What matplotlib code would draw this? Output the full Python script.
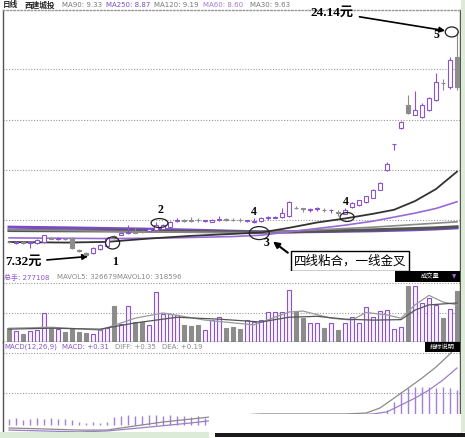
import matplotlib.pyplot as plt
import numpy as np
from matplotlib.patches import Ellipse, Rectangle

plt.rcParams['font.family'] = ['DejaVu Sans', 'Noto Sans CJK SC']

# daily candles (price, yuan)
opens = [8.45, 8.40, 8.45, 8.37, 8.37, 8.44, 8.75, 8.70, 8.70, 8.74,
         7.84, 7.60, 7.62, 7.90, 8.14, 8.90, 9.00, 9.15, 9.20, 9.28,
         9.30, 9.35, 9.45, 9.60, 10.00, 10.05, 10.10, 10.10, 10.00, 9.95,
         10.10, 10.15, 10.10, 10.10, 10.00, 9.95, 10.00, 10.20, 10.25, 10.31,
         10.35, 11.00, 10.95, 10.85, 10.90, 10.85, 10.80, 10.70, 10.55, 11.06,
         11.20, 11.40, 11.75, 12.35, 13.80, 15.75, 16.95, 18.70, 17.95, 17.80,
         18.30, 19.05, 20.35, 20.03, 22.30]
closes = [8.42, 8.45, 8.38, 8.40, 8.60, 8.95, 8.70, 8.72, 8.65, 7.99,
          7.75, 7.50, 7.99, 8.22, 8.74, 8.75, 9.10, 9.20, 9.15, 9.20,
          9.45, 9.70, 9.70, 9.90, 10.10, 10.00, 10.00, 10.05, 10.02, 10.05,
          10.15, 10.10, 10.05, 10.05, 10.05, 10.00, 10.20, 10.30, 10.30, 10.61,
          11.43, 10.95, 10.90, 10.90, 10.95, 10.80, 10.85, 10.60, 10.80, 11.36,
          11.55, 11.85, 12.30, 12.85, 14.30, 15.78, 17.40, 18.08, 18.30, 18.70,
          19.20, 20.40, 20.30, 22.04, 20.00]
highs = [8.55, 8.50, 8.50, 8.50, 8.65, 9.00, 8.80, 8.78, 8.75, 8.80,
         7.90, 7.70, 8.05, 8.30, 8.80, 9.00, 9.20, 9.70, 9.50, 9.35,
         9.50, 9.95, 9.80, 10.00, 10.20, 10.15, 10.30, 10.20, 10.10, 10.15,
         10.40, 10.20, 10.20, 10.20, 10.10, 10.25, 10.30, 10.40, 10.35, 11.00,
         11.50, 11.10, 11.00, 11.00, 11.05, 10.95, 10.90, 10.80, 10.95, 11.45,
         11.60, 11.90, 12.40, 12.95, 14.40, 15.80, 17.45, 19.40, 19.70, 18.80,
         19.30, 21.07, 20.60, 22.30, 24.14]
lows = [8.35, 8.30, 8.30, 7.99, 8.30, 8.40, 8.65, 8.62, 8.60, 7.95,
        7.70, 7.32, 7.55, 7.85, 8.10, 8.70, 8.95, 9.05, 9.10, 9.12,
        9.25, 9.30, 9.40, 9.55, 9.95, 9.95, 9.95, 9.95, 9.90, 9.90,
        10.00, 10.00, 10.00, 9.95, 9.90, 9.85, 9.95, 10.10, 10.20, 10.25,
        10.30, 10.90, 10.70, 10.70, 10.75, 10.70, 10.60, 10.40, 10.50, 11.00,
        11.15, 11.35, 11.70, 12.30, 13.75, 15.30, 16.90, 18.00, 17.90, 17.70,
        18.20, 19.00, 19.80, 19.90, 19.80]

# moving averages, read at a few days
ma_days = [0, 8, 14, 20, 26, 32, 36, 40, 44, 48, 52, 55, 58, 61, 64]
ma30 = [8.44, 8.40, 8.45, 8.70, 8.90, 9.05, 9.15, 9.50, 9.90, 10.20, 10.55, 10.85, 11.50, 12.40, 13.70]
ma60 = [8.75, 8.72, 8.70, 8.72, 8.78, 8.85, 8.95, 9.20, 9.45, 9.70, 10.00, 10.30, 10.60, 10.95, 11.45]
ma90 = [9.35, 9.30, 9.25, 9.20, 9.18, 9.15, 9.15, 9.25, 9.35, 9.45, 9.55, 9.65, 9.75, 9.85, 9.95]
ma120 = [9.30, 9.28, 9.27, 9.25, 9.22, 9.20, 9.18, 9.20, 9.25, 9.30, 9.35, 9.40, 9.45, 9.50, 9.58]
ma250 = [9.55, 9.50, 9.45, 9.40, 9.33, 9.25, 9.20, 9.20, 9.22, 9.25, 9.28, 9.32, 9.36, 9.42, 9.50]
price_grid = [10.09, 13.82, 17.56, 21.37]

# volume (thousand lots)
volume = [290, 230, 170, 230, 250, 610, 290, 270, 210, 290,
          210, 190, 170, 250, 290, 760, 380, 760, 420, 420,
          360, 1050, 590, 590, 570, 360, 340, 360, 250, 460,
          530, 290, 320, 270, 460, 420, 460, 630, 630, 630,
          1090, 630, 500, 400, 400, 290, 400, 250, 400, 530,
          400, 740, 530, 650, 670, 270, 320, 1180, 1180, 820,
          920, 780, 500, 690, 1070]
mavol5_days = [0, 6, 13, 18, 22, 28, 35, 40, 42, 46, 49, 51, 54, 56, 58, 60, 62, 64]
mavol5 = [290, 310, 250, 500, 610, 460, 360, 630, 650, 500, 460, 620, 570, 500, 780, 980, 840, 780]
mavol10_days = [0, 6, 13, 18, 24, 30, 36, 40, 44, 48, 52, 56, 58, 60, 64]
mavol10 = [270, 290, 270, 400, 520, 480, 420, 520, 540, 480, 460, 470, 670, 780, 820]

# MACD
diff_days = [0, 5, 10, 14, 18, 22, 26, 30, 36, 42, 48, 51, 53, 55, 57, 59, 61, 63, 64]
diff = [-0.013, -0.017, -0.022, -0.022, -0.004, 0.013, 0.026, 0.039, 0.048, 0.048, 0.048,
        0.052, 0.074, 0.117, 0.160, 0.204, 0.252, 0.309, 0.348]
dea_days = [0, 10, 14, 20, 26, 32, 40, 48, 52, 54, 56, 58, 60, 62, 64]
dea = [-0.022, -0.030, -0.026, -0.009, 0.009, 0.030, 0.039, 0.043, 0.048, 0.057, 0.087,
       0.117, 0.152, 0.196, 0.248]
macd_hist = [0.025, 0.030, 0.022, 0.028, 0.030, 0.026, 0.030, 0.024, 0.028, 0.022,
             0.012, 0.010, 0.012, 0.010, 0.014, 0.035, 0.040, 0.042, 0.038, 0.040,
             0.045, 0.042, 0.040, 0.044, 0.040, 0.038, 0.036, 0.040, 0.030, 0.028,
             0.025, 0.022, 0.020, 0.020, 0.022, 0.020, 0.024, 0.022, 0.020, 0.022,
             0.025, 0.020, 0.018, 0.015, 0.012, 0.012, 0.010, 0.012, 0.015, 0.020,
             0.025, 0.030, 0.040, 0.050, 0.065, 0.100, 0.143, 0.161, 0.165, 0.165,
             0.165, 0.161, 0.165, 0.161, 0.152]

W, H = 465, 438
PURPLE = '#8a55cc'
GREY = '#8c8c8c'


def px_rect(x0, y0, x1, y1):
    return [x0 / W, 1 - y1 / H, (x1 - x0) / W, (y1 - y0) / H]


def ftext(x, y, s, **kw):
    fig.text(x / W, 1 - y / H, s, va='center', **kw)


fig = plt.figure(figsize=(4.65, 4.38), dpi=100)
ax = fig.add_axes(px_rect(3, 10, 460, 270))
axv = fig.add_axes(px_rect(3, 271, 460, 342))
axm = fig.add_axes(px_rect(3, 342, 460, 432))

n = len(closes)
days = np.arange(n)
up = [c >= o for o, c in zip(opens, closes)]

for a in (ax, axv, axm):
    a.set_xlim(-0.86, 64.43)
    a.set_xticks([])
    a.set_yticks([])
    for s in a.spines.values():
        s.set_color('#555555')
        s.set_linewidth(1)
dot = dict(color='#999999', lw=0.8, ls=(0, (1, 1.5)))

# ---- price panel
ax.set_ylim(6.35, 25.78)
ax.spines['top'].set_linestyle((0, (1, 1.5)))
ax.spines['top'].set_color('#999999')
ax.spines['bottom'].set_visible(False)
for g in price_grid:
    ax.axhline(g, **dot)

ax.plot(ma_days, ma250, color='#7a4cc4', lw=2.2, zorder=2)
ax.plot(ma_days, ma120, color='#555555', lw=2.2, zorder=2)
ax.plot(ma_days, ma90, color='#8a8a8a', lw=1.2, zorder=2)
ax.plot(ma_days, ma60, color='#9a6ad8', lw=1.2, zorder=2)
ax.plot(ma_days, ma30, color='#333333', lw=1.3, zorder=2)

for i in range(n):
    col = PURPLE if up[i] else GREY
    ax.vlines(i, lows[i], highs[i], color=col, lw=0.8, zorder=3)
    lo, hi = min(opens[i], closes[i]), max(opens[i], closes[i])
    h = max(hi - lo, 0.05)
    ax.bar(i, h, bottom=lo, width=0.62, facecolor='white' if up[i] else GREY,
           edgecolor=col, lw=0.8, zorder=4)

serif = ['Liberation Serif', 'Noto Sans CJK SC']
ax.annotate('7.32元', xy=(11.7, 7.38), xytext=(-0.6, 6.95), ha='left', va='center',
            fontsize=9.5, family=serif, fontweight='bold',
            arrowprops=dict(arrowstyle='-|>', color='black', lw=1.2, mutation_scale=8))
ax.annotate('24.14元', xy=(62.7, 24.2), xytext=(46.2, 25.6), ha='center', va='center',
            fontsize=9.5, family=serif, fontweight='bold',
            arrowprops=dict(arrowstyle='-|>', color='black', lw=1.2, mutation_scale=8))
ax.annotate('四线粘合，一线金叉', xy=(37.4, 8.6), xytext=(48.7, 7.02), ha='center', va='center',
            fontsize=9, family=['Noto Sans CJK SC'],
            bbox=dict(boxstyle='square,pad=0.25', fc='white', ec='black', lw=1),
            arrowprops=dict(arrowstyle='-|>', color='black', lw=1.5, mutation_scale=9,
                            relpos=(0.0, 0.8)))
for lab, x, y in [('1', 15.1, 6.95), ('2', 21.65, 10.83), ('3', 36.75, 8.37),
                  ('4', 35.0, 10.68), ('4', 48.1, 11.43), ('5', 61.0, 23.91)]:
    ax.text(x, y, lab, ha='center', va='center', fontsize=8.5, family=serif,
            fontweight='bold', zorder=6)
for x, y, w, h in [(14.8, 8.37, 2.0, 0.9), (21.5, 9.86, 2.4, 0.67),
                   (35.75, 9.11, 2.85, 0.97), (48.3, 10.31, 2.0, 0.67),
                   (63.25, 24.14, 1.85, 0.75)]:
    ax.add_patch(Ellipse((x, y), w, h, fill=False, ec='#222222', lw=0.9, zorder=6))

# ---- volume panel
axv.set_ylim(0, 1492)
axv.spines['top'].set_visible(False)
axv.axhline(1240, **dot)
axv.axhline(610, **dot)
axv.bar(days, volume, width=0.7,
        color=['#f8f1fd' if u else GREY for u in up],
        edgecolor=[PURPLE if u else GREY for u in up], lw=0.8, zorder=2)
axv.plot(mavol5_days, mavol5, color='#9a9a9a', lw=0.9, zorder=3)
axv.plot(mavol10_days, mavol10, color='#555555', lw=0.9, zorder=3)

# ---- MACD panel
axm.set_ylim(-0.0304, 0.361)
axm.spines['top'].set_visible(False)
axm.spines['bottom'].set_visible(False)
axm.axhline(0.313, **dot)
axm.axhline(0.139, **dot)
axm.vlines(days, 0, macd_hist, color='#a47fd8', lw=1.0, zorder=2)
axm.plot(diff_days, diff, color='#8a8a8a', lw=0.9, zorder=3)
axm.plot(dea_days, dea, color='#9a7fc8', lw=0.9, zorder=3)

# ---- header texts
ftext(3, 5, '日线', fontsize=5.5, fontweight='bold', color='#222222')
ftext(25, 5, '西建城投', fontsize=5.5, fontweight='bold', color='#222222')
for x, s, c in [(62, 'MA90: 9.33', '#777777'), (106, 'MA250: 8.87', '#7a4cc4'),
                (154, 'MA120: 9.19', '#777777'), (203, 'MA60: 8.60', '#a07ad8'),
                (250, 'MA30: 9.63', '#777777')]:
    ftext(x, 5, s, fontsize=5, color=c)
for x, s, c in [(4, '总手: 277108', '#8a55cc'), (57, 'MAVOL5: 326679', '#888888'),
                (117, 'MAVOL10: 318596', '#888888')]:
    ftext(x, 277, s, fontsize=5, color=c)
for x, s, c in [(4, 'MACD(12,26,9)', '#8a55cc'), (62, 'MACD: +0.31', '#8a55cc'),
                (115, 'DIFF: +0.35', '#888888'), (162, 'DEA: +0.19', '#888888')]:
    ftext(x, 347, s, fontsize=5, color=c)

fig.add_artist(Rectangle((395 / W, 1 - 282 / H), 65 / W, 11 / H, fc='black', ec='none', zorder=5))
ftext(430, 276.5, '成交量', fontsize=4.5, color='white', ha='center', zorder=6)
ftext(454, 276.5, '▼', fontsize=4, color='#9a6ad8', ha='center', zorder=6)
fig.add_artist(Rectangle((425 / W, 1 - 352 / H), 35 / W, 10 / H, fc='black', ec='none', zorder=5))
ftext(442.5, 347, '指标说明', fontsize=4.5, color='white', ha='center', zorder=6)

# screenshot edges
fig.add_artist(Rectangle((209 / W, 1 - 433 / H), 252 / W, 19 / H, fc='white', ec='none', zorder=5))
fig.add_artist(Rectangle((215 / W, 1 - 437 / H), 250 / W, 4 / H, fc='#1a1a1a', ec='none', zorder=5))
fig.add_artist(Rectangle((0, 0), 209 / W, 6 / H, fc='#dcebd8', ec='none', zorder=5))
fig.add_artist(Rectangle((461 / W, 6 / H), 4 / W, 1, fc='#dcebd8', ec='none', zorder=5))

fig.savefig('out.png', dpi=100)
